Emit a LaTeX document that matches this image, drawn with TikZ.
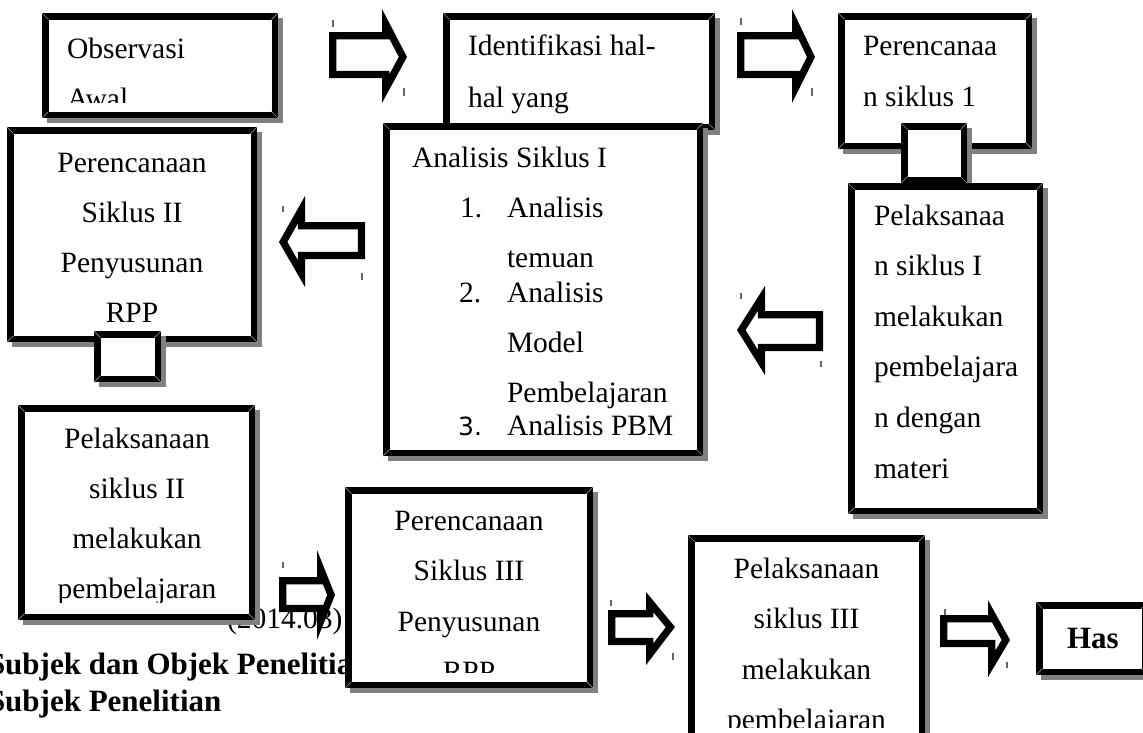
\documentclass[tikz,border=0pt]{standalone}
\usepackage{fontspec}
\setmainfont{Liberation Serif}
\newfontfamily\dejavu{DejaVu Sans}
% box with drop shadow: name, x1, y1, x2, y2 (outer edges, px)
\newcommand\wbox[5]{%
  \fill[shd] ({#2+5},{#3+5}) rectangle ({#4+5},{#5+5});
  \node[boxst, minimum width={(#4)-(#2)-6.5}, minimum height={(#5)-(#3)-6.5}, anchor=north west] (#1) at ({#2+3.25},{#3+3.25}) {};
  \draw[bevel] (#2,#3) -- ++(6.5,6.5) (#4,#3) -- ++(-6.5,6.5) (#2,#5) -- ++(6.5,-6.5) (#4,#5) -- ++(-6.5,-6.5);}
% lines of text: prefix, anchor, x, first baseline, line step, list
\newcommand\tlines[6]{\foreach \t [count=\i] in {#6} {\node[txt, anchor=#2] (#1\i) at (#3,{#4+(\i-1)*#5}) {\t};}}
% hollow block arrow, outer outline: x tail, x head base, x tip, shaft y1, shaft y2, head y1, head y2, tip y
\newcommand\blockarrow[8]{%
  \begin{scope}
    \clip (#1,#4) -- (#2,#4) -- (#2,#6) -- (#3,#8) -- (#2,#7) -- (#2,#5) -- (#1,#5) -- cycle;
    \draw[barrow] (#1,#4) -- (#2,#4) -- (#2,#6) -- (#3,#8) -- (#2,#7) -- (#2,#5) -- (#1,#5) -- cycle;
  \end{scope}}
\begin{document}
\begin{tikzpicture}[x=1pt,y=-1pt,
  txt/.style={inner sep=0pt, outer sep=0pt, font=\fontsize{29.5}{35}\selectfont},
  bigbold/.style={inner sep=0pt, outer sep=0pt, font=\fontsize{31}{36}\selectfont\bfseries},
  boxst/.style={draw=black, line width=6.5pt, fill=white, rectangle, inner sep=0pt, outer sep=0pt},
  bevel/.style={draw=black!45, line width=0.7pt},
  shd/.style={fill=black!50},
  barrow/.style={draw=black, line width=14.5pt, line join=miter},
  tickmark/.style={draw=black!60, line width=1.3pt}]
\useasboundingbox (0,0) rectangle (1143,732);
\fill[white] (0,0) rectangle (1143,732);
\clip (0,0) rectangle (1143,732);

% background text
\node[txt, anchor=base west] (src) at (227,628) {(2014.03)};
\node[bigbold, anchor=base west] (h1) at (-12,674) {Subjek dan Objek Penelitian};
\node[bigbold, anchor=base west] (h2) at (-12,711) {Subjek Penelitian};

% Observasi Awal
\wbox{obs}{42}{13}{278}{118}
\begin{scope}
  \clip (48.5,19.5) rectangle (271.5,102);
  \tlines{obs}{base west}{67}{58}{50.5}{Observasi,Awal}
\end{scope}

\blockarrow{329}{382}{407}{32}{78}{9}{103}{57}
\draw[tickmark] (333,20) -- (333,27);
\draw[tickmark] (404,88) -- (404,96);

% Identifikasi
\wbox{idf}{443}{13}{715}{130}
\tlines{idf}{base west}{468}{55}{52}{Identifikasi hal-,hal yang}

\blockarrow{737}{792}{815}{32}{78}{9}{103}{57}
\draw[tickmark] (741,18) -- (741,25);
\draw[tickmark] (812,88) -- (812,96);

% Perencanaan siklus 1
\wbox{pc1}{838}{13}{1032}{149}
\tlines{pc1}{base west}{863}{55}{51}{Perencanaa,n siklus 1}
\wbox{sq1}{901}{123}{967}{183}

% Perencanaan siklus II
\wbox{pc2}{7}{127}{257}{342}
\tlines{pc2}{base}{132}{172}{50}{Perencanaan,Siklus II,Penyusunan,RPP}
\wbox{sq2}{94}{331}{161}{382}

% Analisis Siklus I
\wbox{ana}{383}{123}{703}{456}
\node[txt, anchor=base west] (an1) at (412,167) {Analisis Siklus I};
\node[txt, anchor=base west] (an2n) at (460,217) {1.};
\node[txt, anchor=base west] (an2) at (507,217) {Analisis};
\node[txt, anchor=base west] (an3) at (507,267) {temuan};
\node[txt, anchor=base west] (an4n) at (459,302) {2.};
\node[txt, anchor=base west] (an4) at (507,302) {Analisis};
\node[txt, anchor=base west] (an5) at (507,352) {Model};
\node[txt, anchor=base west] (an6) at (507,402) {Pembelajaran};
\node[inner sep=0pt, anchor=base west, font=\dejavu\fontsize{25}{30}\selectfont] (an7n) at (458,435) {3.};
\node[txt, anchor=base west] (an7) at (507,435) {Analisis PBM};

\blockarrow{365}{305}{279}{222}{259}{196}{287}{242}
\draw[tickmark] (283,206) -- (283,212);
\draw[tickmark] (362,273) -- (362,280);

% Pelaksanaan siklus I
\wbox{pl1}{848}{183}{1043}{514}
\tlines{pl1}{base west}{874}{225}{50.6}{Pelaksanaa,n siklus I,melakukan,pembelajara,n dengan,materi}

\blockarrow{823}{765}{737}{311}{351}{286}{375}{330}
\draw[tickmark] (741,293) -- (741,299);
\draw[tickmark] (821,361) -- (821,367);

% Pelaksanaan siklus II
\wbox{pl2}{18}{405}{255}{620}
\begin{scope}
  \clip (24.5,411.5) rectangle (248.5,602);
  \tlines{pl2}{base}{137}{448}{50}{Pelaksanaan,siklus II,melakukan,pembelajaran}
\end{scope}

\blockarrow{279}{317}{335}{577}{612}{550}{640}{595}
\draw[tickmark] (283,562) -- (283,568);

% Perencanaan siklus III
\wbox{pc3}{345}{487}{593}{688}
\begin{scope}
  \clip (351.5,493.5) rectangle (586.5,672);
  \tlines{pc3}{base}{469}{530}{50.5}{Perencanaan,Siklus III,Penyusunan,RPP}
\end{scope}

\blockarrow{608}{646}{675}{610}{645}{592}{665}{627}
\draw[tickmark] (611,600) -- (611,606);
\draw[tickmark] (673,653) -- (673,660);

% Pelaksanaan siklus III
\wbox{pl3}{688}{535}{925}{770}
\begin{scope}
  \clip (694.5,541.5) rectangle (918.5,727);
  \tlines{pl3}{base}{806.5}{578}{50.5}{Pelaksanaan,siklus III,melakukan,pembelajaran}
\end{scope}

\blockarrow{940}{988}{1010}{615}{647}{600}{677}{640}
\draw[tickmark] (945,609) -- (945,615);
\draw[tickmark] (1007,662) -- (1007,668);

% Hasil
\wbox{has}{1036}{602}{1148}{675}
\node[bigbold, anchor=base west] (hast) at (1067,648) {Has};
\end{tikzpicture}
\end{document}
